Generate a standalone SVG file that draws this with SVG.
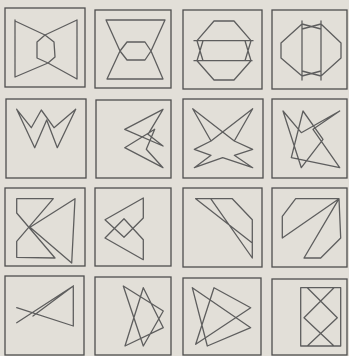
<svg xmlns="http://www.w3.org/2000/svg" width="349" height="356" viewBox="0 0 349 356">
<style>
.bg{fill:#e2dfd8}
.box{fill:none;stroke:#4e4e4e;stroke-width:1.3}
.fig{fill:none;stroke:#5e5e5e;stroke-width:1.3;stroke-linejoin:round;stroke-linecap:round}
</style>
<rect class="bg" x="0" y="0" width="349" height="356"/>
<g id="c11"><rect class="box" x="5" y="8" width="80" height="79"/>
<path class="fig" d="M15,20 L15,77 M77,20 L77,79 M15,21 L45,35 L77,20 M15,77 L48,63 L77,79 M45,35 L54,42 L55,57 L48,63 L37,58 L37,42 Z"/></g>
<g id="c12"><rect class="box" x="95" y="10" width="76" height="78"/>
<path class="fig" d="M106,20 L165,20 M107,79 L163,79 M106,20 L120,51 L107,79 M165,20 L151,51 L163,79 M120,51 L127,42 L145,42 L151,51 L145,60 L127,60 Z"/></g>
<g id="c13"><rect class="box" x="183" y="10" width="79" height="79"/>
<path class="fig" d="M194,40.7 L253,40.7 M194,60.7 L252,60.7 M197,40.7 L214,21 L234,21 L251,40.7 M197,60.7 L214,80 L234,80 L251,60.7 M197,40.7 L203,60.7 M203,40.7 L197,60.7 M251,40.7 L245,60.7 M245,40.7 L251,60.7"/></g>
<g id="c14"><rect class="box" x="272" y="10" width="75" height="79"/>
<path class="fig" d="M302,21 L302,80 M321,21 L321,80 M302,24 L281,43 L281,58 L302,76 M321,24 L341,43 L341,58 L321,76 M302,24 L321,29 M302,29 L321,24 M302,71 L321,76 M302,76 L321,71"/></g>
<g id="c21"><rect class="box" x="6" y="99" width="80" height="79"/>
<path class="fig" d="M16.7,109.3 L34.7,147.7 L46.7,120 L57.3,147.7 L75.7,109.3 M16.7,109.3 L31.3,127.7 L41.3,110 L54,127.7 L75.7,109.3"/></g>
<g id="c22"><rect class="box" x="96" y="100" width="75" height="78"/>
<path class="fig" d="M124.7,129.3 L163,109.3 L148,134.3 L163,146 Z M124.7,147.7 L154.7,129.3 L146.3,149.3 L163,167.7 Z"/></g>
<g id="c23"><rect class="box" x="183" y="99" width="80" height="79"/>
<path class="fig" d="M192.7,108.7 L234.3,141 L252.7,108.7 L211,141 Z M211,141 L194.3,149.3 L211,155.3 L194.3,167.7 L222.7,157.7 L252.7,167.7 L234.3,155.3 L252.7,149.3 L234.3,141"/></g>
<g id="c24"><rect class="box" x="272" y="99" width="75" height="79"/>
<path class="fig" d="M283,111 L301.3,167.7 L323,139.3 L303,111 L291.3,157.7 L339.7,167.7 L313,129.3 L339.7,111 L301.3,132.7 Z"/></g>
<g id="c31"><rect class="box" x="5" y="188" width="80" height="78"/>
<path class="fig" d="M16.7,198.7 L53.3,198.7 L16.7,241.3 L16.7,257.3 L55,258 L16.7,213 Z M30,227.3 L75,198.7 L71.7,263 Z"/></g>
<g id="c32"><rect class="box" x="95" y="188" width="76" height="78"/>
<path class="fig" d="M143.3,198 L105,219.7 L124,237.3 L143.3,218 Z M143.3,259.7 L105,238 L124,218.7 L143.3,239.7 Z"/></g>
<g id="c33"><rect class="box" x="183" y="188" width="79" height="79"/>
<path class="fig" d="M195.7,198.7 L232.3,198.7 L252.3,219.7 L252.3,258 L210.7,198.7 M195.7,198.7 L252.3,243"/></g>
<g id="c34"><rect class="box" x="272" y="188" width="75" height="79"/>
<path class="fig" d="M295.7,198.7 L339,198.7 L282.3,238 L282.3,216.3 Z M339,198.7 L340.7,238 L320.7,258 L304,258 Z"/></g>
<g id="c41"><rect class="box" x="5" y="276" width="79" height="79"/>
<path class="fig" d="M73.3,286 L16.7,322.7 M73.3,326 L16.7,307.7 M73.3,286 L73.3,326 M73.3,286 L33,316 M73.3,326 L33,313"/></g>
<g id="c42"><rect class="box" x="95" y="277" width="76" height="78"/>
<path class="fig" d="M123.3,286 L163.3,311 L143.3,346 Z M143.3,287.7 L125,346 L163.3,327.7 Z"/></g>
<g id="c43"><rect class="box" x="183" y="278" width="78" height="77"/>
<path class="fig" d="M214,287.7 L250.7,307.7 L195.7,344.3 Z M192.3,287.7 L250.7,327.7 L207.3,346 Z"/></g>
<g id="c44"><rect class="box" x="272" y="279" width="75" height="76"/>
<path class="fig" d="M300.7,287.7 L340.7,287.7 L340.7,346 L300.7,346 Z M307.3,287.7 L337.3,317.7 L307.3,346 M334,287.7 L304,317.7 L334,346"/></g>
</svg>
